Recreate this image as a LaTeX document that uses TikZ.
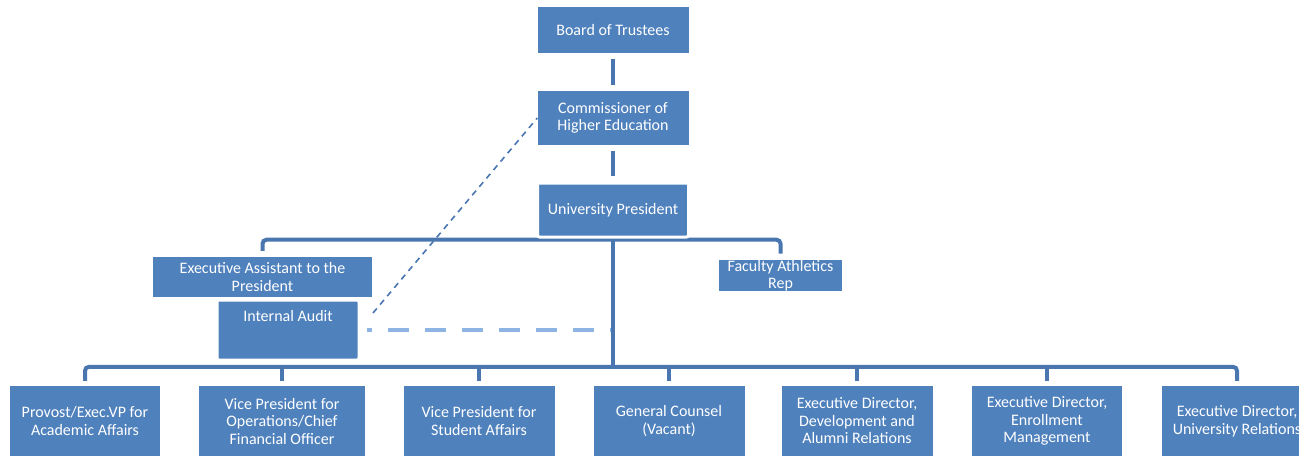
\documentclass[tikz,border=0pt]{standalone}
\usepackage{fontspec}
\setmainfont{Carlito}
\usetikzlibrary{calc,math,backgrounds}

\definecolor{boxblue}{HTML}{4F81BD}
\definecolor{linkblue}{HTML}{4A76B0}
\definecolor{softblue}{HTML}{8EB4E3}

\tikzset{
  unit/.style={fill=boxblue, text=white, align=center, inner sep=0pt,
    font=\fontsize{16}{17.5}\selectfont, minimum width=151pt, minimum height=54pt},
  framed/.style={draw=white, line width=3pt, rounded corners=2pt},
  trunk/.style={draw=linkblue, line width=4pt},
  thindash/.style={draw=linkblue, line width=1.6pt, dash pattern=on 6pt off 5pt},
  softdash/.style={draw=softblue, line width=4.5pt, dash pattern=on 21pt off 16pt, dash phase=16pt},
}

\begin{document}
\begin{tikzpicture}[x=1pt,y=-1pt]
  \tikzmath{
    real \bary;
    \bary = 367;
  }
  \useasboundingbox (0,0) rectangle (1299,456);

  \node[unit, minimum height=46pt] (board) at (613,30) {Board of Trustees};
  \node[unit] (comm) at (613,118) {Commissioner of\\Higher Education};
  \node[unit, framed] (pres) at (613,210) {University President};
  \node[unit, minimum width=219pt, minimum height=40pt] (assist) at (262.5,277) {Executive Assistant to the\\President};
  \node[unit, minimum width=123pt, minimum height=31pt] (fac) at (780.5,275.5) {Faculty Athletics\\Rep};
  \node[unit, framed, minimum width=142pt, minimum height=60pt, text depth=29pt] (audit) at (288,330) {Internal Audit};

  \foreach \i/\x/\w/\t in {
      1/85/150/{Provost/Exec.VP for\\Academic Affairs},
      2/282/166/{Vice President for\\Operations/Chief\\Financial Officer},
      3/479/151/{Vice President for\\Student Affairs},
      4/669/151/{General Counsel\\(Vacant)},
      5/857/151/{Executive Director,\\Development and\\Alumni Relations},
      6/1047/150/{Executive Director,\\Enrollment\\Management},
      7/1237/151/{Executive Director,\\University Relations}} {
    \node[unit, minimum width=\w pt, minimum height=70pt] (c\i) at (\x,421) {\t};
  }

  \coordinate (hub) at (pres.south |- 0,\bary);
  \coordinate (auditlink) at (373,313);

  \begin{scope}[on background layer]
    \draw[trunk, shorten <=6pt, shorten >=6pt] (board) -- (comm);
    \draw[trunk, shorten <=6pt, shorten >=6pt] (comm) -- (pres);
    \draw[trunk, rounded corners=4pt] ($(assist.north)+(0,-6)$) |- ($(fac.north)+(0,-20)$) -- ($(fac.north)+(0,-6)$);
    \draw[trunk] (pres.south) -- (hub);
    \draw[trunk, rounded corners=4pt] ($(c1.north)+(0,-5)$) |- ($(c7.north)+(0,-19)$) -- ($(c7.north)+(0,-5)$);
    \foreach \i in {2,...,6} {
      \draw[trunk] ($(c\i.north)+(0,-5)$) -- ++(0,-15);
    }
    \draw[thindash] (auditlink) -- (comm.west);
    \draw[softdash, shorten <=6pt, shorten >=3pt] (audit.east) -- (audit.east -| hub);
  \end{scope}
\end{tikzpicture}
\end{document}
